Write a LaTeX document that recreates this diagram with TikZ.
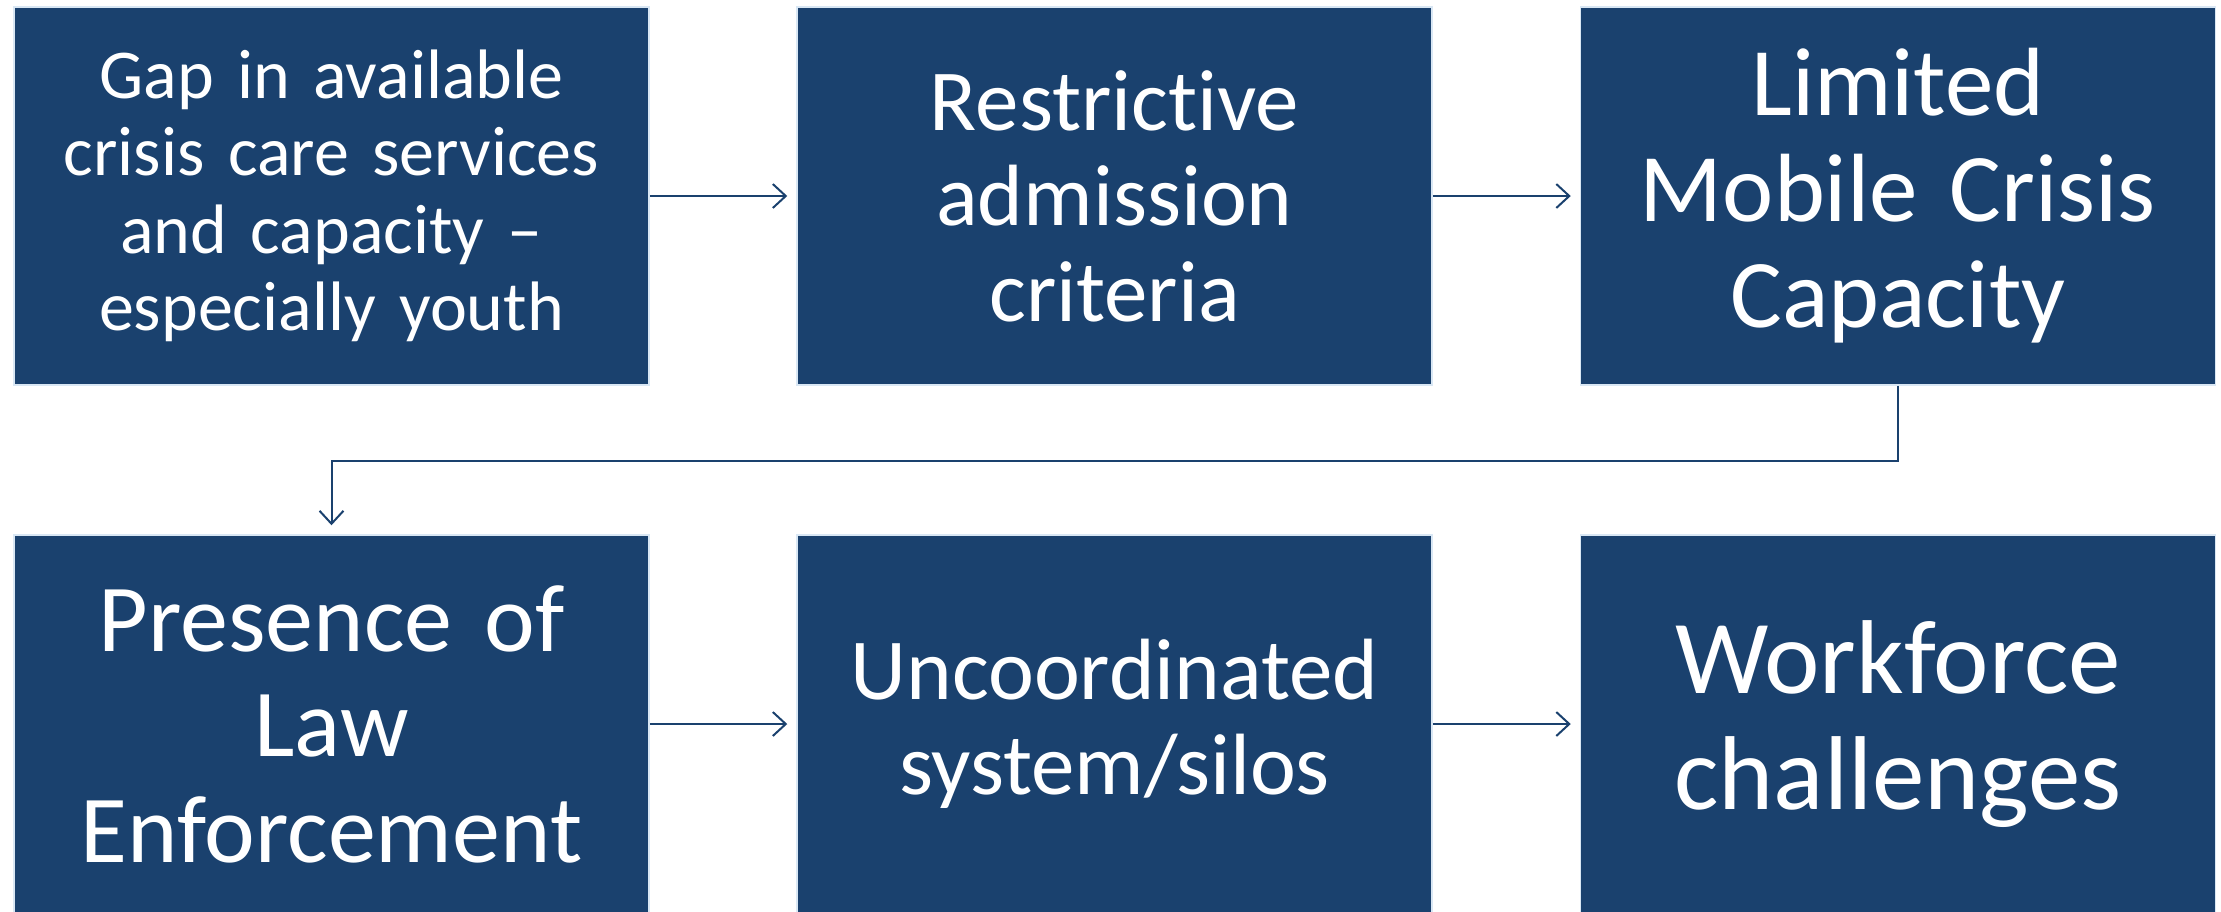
\documentclass[tikz,border=0pt]{standalone}
\usepackage{fontspec}
\setmainfont{Carlito}[RawFeature=-liga]
\usetikzlibrary{arrows.meta}
\definecolor{navy}{HTML}{1A416E}
\definecolor{paleedge}{HTML}{D9E7F4}
\tikzset{
  box/.style={rectangle, fill=navy, draw=paleedge, line width=1.5pt,
    minimum width=635pt, minimum height=378pt, inner sep=0pt,
    text=white, align=center, text width=600pt},
  link/.style={draw=navy, line width=2pt,
    -{Straight Barb[length=13pt,width=24pt,line width=2pt]}, shorten >=9pt}
}
\begin{document}
\begin{tikzpicture}[x=1pt,y=-1pt]
\useasboundingbox (0,0) rectangle (2221,911);
\clip (0,0) rectangle (2221,911);
\node[box, font=\fontsize{70}{77.5}\selectfont] (b1) at (331.5,196) {Gap in available\\crisis care services\\and capacity –\\especially youth};
\node[box, font=\fontsize{87}{95.5}\selectfont] (b2) at (1114.5,196) {Restrictive\\admission\\criteria};
\node[box, font=\fontsize{97}{106}\selectfont] (b3) at (1898,196) {Limited\\Mobile Crisis\\Capacity};
\node[box, font=\fontsize{96}{105.5}\selectfont] (b4) at (331.5,724) {Presence of\\Law\\Enforcement};
\node[box, font=\fontsize{87}{95.5}\selectfont] (b5) at (1114.5,724) {Uncoordinated\\system/silos};
\node[box, font=\fontsize{105}{116.5}\selectfont] (b6) at (1898,724) {Workforce\\challenges};
\coordinate (mid) at (0,461);
\draw[link] (b1) -- (b2);
\draw[link] (b2) -- (b3);
\draw[link] (b4) -- (b5);
\draw[link] (b5) -- (b6);
\draw[link] (b3.south) -- (b3.south |- mid) -| (b4.north);
\end{tikzpicture}
\end{document}
